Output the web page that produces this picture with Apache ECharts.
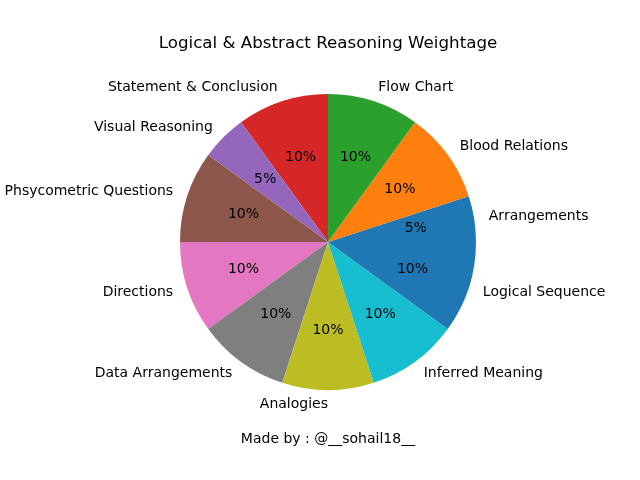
<!DOCTYPE html>
<html>
<head>
<meta charset="utf-8">
<title>Logical & Abstract Reasoning Weightage</title>
<script src="https://cdn.jsdelivr.net/npm/echarts@6/dist/echarts.min.js"></script>
<style>
  html, body { margin: 0; padding: 0; background: #fff; }
  #chart { width: 640px; height: 480px; }
</style>
</head>
<body>
<div id="chart"></div>
<script>
var topics = ['Arrangements', 'Blood Relations', 'Flow Chart', 'Statement & Conclusion',
    'Visual Reasoning', 'Phsycometric Questions', 'Directions', 'Data Arrangements',
    'Analogies', 'Inferred Meaning', 'Logical Sequence'];
var weights = [5, 10, 10, 10, 5, 10, 10, 10, 10, 10, 10];
var colors = ['#1f77b4', '#ff7f0e', '#2ca02c', '#d62728', '#9467bd', '#8c564b',
    '#e377c2', '#7f7f7f', '#bcbd22', '#17becf', '#1f77b4'];

var font = 'DejaVu Sans';
var R = 148;
var center = [328, 242];

var slices = topics.map(function (name, i) {
    return { name: name, value: weights[i], itemStyle: { color: colors[i] } };
});
var total = weights.reduce(function (a, b) { return a + b; }, 0);

var myChart = echarts.init(document.getElementById('chart'));
var option = {
    backgroundColor: '#fff',
    animation: false,
    title: [{
        text: 'Logical & Abstract Reasoning Weightage',
        left: 328,
        top: 35,
        padding: 0,
        textAlign: 'center',
        textStyle: { fontFamily: font, fontSize: 16.7, fontWeight: 'normal', color: '#000' }
    }, {
        text: 'Made by : @__sohail18__',
        left: 328,
        top: 432,
        padding: 0,
        textAlign: 'center',
        textStyle: { fontFamily: font, fontSize: 14, fontWeight: 'normal', color: '#000' }
    }],
    series: [
        {
            type: 'pie',
            center: center,
            radius: [0, R],
            startAngle: 0,
            clockwise: false,
            avoidLabelOverlap: false,
            silent: true,
            itemStyle: { borderWidth: 0 },
            label: {
                show: true,
                position: 'outside',
                distanceToLabelLine: 0,
                padding: [2, 0, 0, 0],
                fontFamily: font,
                fontSize: 14,
                color: '#000',
                formatter: '{b}'
            },
            labelLine: { show: false, length: R * 0.1, length2: 0 },
            data: slices
        },
        {
            type: 'pie',
            center: center,
            radius: [R * 0.16, R],
            startAngle: 0,
            clockwise: false,
            avoidLabelOverlap: false,
            silent: true,
            itemStyle: { color: 'rgba(0,0,0,0)', borderWidth: 0 },
            label: {
                show: true,
                position: 'inside',
                padding: [2, 0, 0, 0],
                fontFamily: font,
                fontSize: 14,
                color: '#000',
                formatter: function (p) {
                    return Math.round(p.value / total * 100) + '%';
                }
            },
            labelLine: { show: false },
            data: topics.map(function (name, i) { return { name: name, value: weights[i] }; })
        }
    ]
};
myChart.setOption(option);
</script>
</body>
</html>
